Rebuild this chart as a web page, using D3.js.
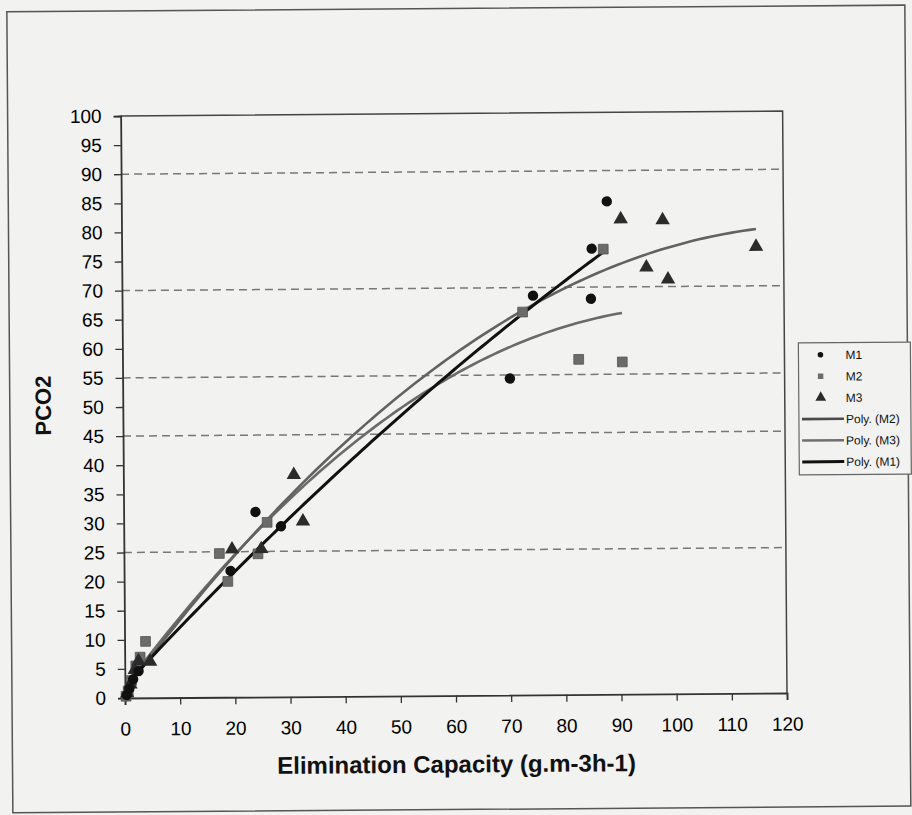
<!DOCTYPE html>
<html><head><meta charset="utf-8">
<script src="https://cdn.jsdelivr.net/npm/d3@7"></script>
<style>html,body{margin:0;padding:0;background:#f2f2f0;}svg{display:block;font-family:"Liberation Sans",Arial,sans-serif;}</style>
</head><body>
<script>
// ---- data ----
const m1 = [[0.3,0.5],[0.8,1.6],[1.5,3.2],[2.5,4.6],[19.3,21.7],[23.9,31.8],[28.5,29.3],[70.2,54.4],[74.5,68.6],[85.2,76.6],[85.0,68.0],[88.0,84.7]];
const m2 = [[0.2,0.3],[0.6,1.2],[1.2,3.0],[2.0,5.5],[2.8,7.0],[3.8,9.7],[17.3,24.7],[18.8,19.9],[24.3,24.6],[26.0,30.0],[72.6,65.8],[82.7,57.6],[87.3,76.5],[90.6,57.1]];
const m3 = [[0.4,1.0],[1.0,2.5],[1.8,5.0],[2.5,6.5],[4.6,6.4],[19.6,25.6],[24.9,25.6],[30.9,38.3],[32.5,30.3],[90.5,81.8],[98.1,81.6],[115.0,76.9],[95.1,73.5],[99.0,71.4]];
const xTicks = [0,10,20,30,40,50,60,70,80,90,100,110,120];
const yTicks = [0,5,10,15,20,25,30,35,40,45,50,55,60,65,70,75,80,85,90,95,100];
const refLines = [90,70,55,45,25];
const legendLabels = ["M1","M2","M3","Poly. (M2)","Poly. (M3)","Poly. (M1)"];
const xTitle = "Elimination Capacity (g.m-3h-1)";
const yTitle = "PCO2";

// ---- layout ----
const W = 912, H = 815;
const L = 125, B = 698, PW = 662, PH = 582;
const x = d3.scaleLinear().domain([0,120]).range([L, L+PW]);
const y = d3.scaleLinear().domain([0,100]).range([B, B-PH]);

const svg = d3.select("body").append("svg").attr("width",W).attr("height",H);
svg.append("rect").attr("width",W).attr("height",H).attr("fill","#f2f2f0");
const g = svg.append("g").attr("transform",`rotate(-0.43,${L},${B})`);

// outer frame
g.append("rect").attr("x",12).attr("y",11).attr("width",898).attr("height",801)
  .attr("fill","none").attr("stroke","#555").attr("stroke-width",1.5);

// plot area border (top + right)
g.append("path").attr("d",`M${x(0)},${y(100)}H${x(120)}V${y(0)}`)
  .attr("fill","none").attr("stroke","#444").attr("stroke-width",1.5);

// reference dashed lines
g.selectAll(".ref").data(refLines).join("line")
  .attr("x1",x(0)).attr("x2",x(120)).attr("y1",d=>y(d)).attr("y2",d=>y(d))
  .attr("stroke","#777").attr("stroke-width",1.5).attr("stroke-dasharray","8,5");

// axes
const ya = g.append("g").attr("transform",`translate(${L},0)`)
  .call(d3.axisLeft(y).tickValues(yTicks).tickSize(7).tickPadding(12).tickFormat(d3.format("d")));
const xa = g.append("g").attr("transform",`translate(0,${B})`)
  .call(d3.axisBottom(x).tickValues(xTicks).tickSize(7).tickPadding(17).tickFormat(d3.format("d")));
[ya,xa].forEach(a=>{
  a.select(".domain").attr("stroke","#333").attr("stroke-width",1.8);
  a.selectAll(".tick line").attr("stroke","#333").attr("stroke-width",1.3);
  a.selectAll(".tick text").attr("font-size",19).attr("fill","#000").attr("font-family","Liberation Sans, Arial, sans-serif");
});

// titles
g.append("text").attr("x",x(60)).attr("y",775).attr("text-anchor","middle")
  .attr("font-size",24).attr("font-weight","bold").attr("fill","#111").text(xTitle);
g.append("text").attr("transform",`translate(53,405) rotate(-90)`).attr("text-anchor","middle")
  .attr("font-size",22).attr("font-weight","bold").attr("fill","#111").text(yTitle);

// quadratic least-squares trendline (Excel "Poly." order 2)
function polyFit(pts){
  let S=[0,0,0,0,0], T=[0,0,0];
  pts.forEach(([a,b])=>{ let p=1; for(let k=0;k<5;k++){S[k]+=p; if(k<3)T[k]+=p*b; p*=a;} });
  const M=[[S[0],S[1],S[2],T[0]],[S[1],S[2],S[3],T[1]],[S[2],S[3],S[4],T[2]]];
  for(let i=0;i<3;i++){ for(let j=i+1;j<3;j++){ const f=M[j][i]/M[i][i]; for(let k=i;k<4;k++) M[j][k]-=f*M[i][k]; } }
  const c=[0,0,0];
  for(let i=2;i>=0;i--){ let s=M[i][3]; for(let k=i+1;k<3;k++) s-=M[i][k]*c[k]; c[i]=s/M[i][i]; }
  return c;
}
function trend(pts){
  const c = polyFit(pts);
  const xs = pts.map(p=>p[0]);
  const lo = d3.min(xs), hi = d3.max(xs);
  return d3.range(0,101).map(i=>{ const v = lo+(hi-lo)*i/100; return [v, c[0]+c[1]*v+c[2]*v*v]; });
}
const line = d3.line().x(d=>x(d[0])).y(d=>y(d[1])).curve(d3.curveLinear);
const trends = [
  {pts:m2, color:"#6a6a6a", w:2.6},
  {pts:m3, color:"#626262", w:2.6},
  {pts:m1, color:"#111", w:3}
];
trends.forEach(t=>g.append("path").attr("d",line(trend(t.pts))).attr("fill","none")
  .attr("stroke",t.color).attr("stroke-width",t.w));

// markers
const sq = d3.symbol().type(d3.symbolSquare).size(95);
const tri = d3.symbol().type(d3.symbolTriangle).size(90);
g.selectAll(".m2").data(m2).join("path").attr("d",sq)
  .attr("transform",d=>`translate(${x(d[0])},${y(d[1])})`).attr("fill","#6b6b6b").attr("stroke","#555").attr("stroke-width",0.8);
g.selectAll(".m3").data(m3).join("path").attr("d",tri)
  .attr("transform",d=>`translate(${x(d[0])},${y(d[1])+1})`).attr("fill","#2b2b2b");
g.selectAll(".m1").data(m1).join("circle").attr("cx",d=>x(d[0])).attr("cy",d=>y(d[1])).attr("r",5.2).attr("fill","#111");

// legend
const lg = g.append("g").attr("transform","translate(801,348)");
lg.append("rect").attr("width",112).attr("height",132).attr("fill","#f2f2f0").attr("stroke","#666").attr("stroke-width",1.2);
const rowY = i=>12+i*21.4;
legendLabels.forEach((lab,i)=>{
  lg.append("text").attr("x",47).attr("y",rowY(i)+4.5).attr("font-size",12).attr("fill","#111").text(lab);
});
lg.append("circle").attr("cx",22).attr("cy",rowY(0)).attr("r",2.8).attr("fill","#111");
lg.append("path").attr("d",d3.symbol().type(d3.symbolSquare).size(30)).attr("transform",`translate(22,${rowY(1)})`).attr("fill","#6b6b6b");
lg.append("path").attr("d",d3.symbol().type(d3.symbolTriangle).size(50)).attr("transform",`translate(22,${rowY(2)})`).attr("fill","#2b2b2b");
[["#4a4a4a",2.6],["#707070",2.6],["#111",3]].forEach(([c,w],i)=>{
  lg.append("line").attr("x1",3).attr("x2",45).attr("y1",rowY(3+i)).attr("y2",rowY(3+i)).attr("stroke",c).attr("stroke-width",w);
});
</script>
</body></html>
